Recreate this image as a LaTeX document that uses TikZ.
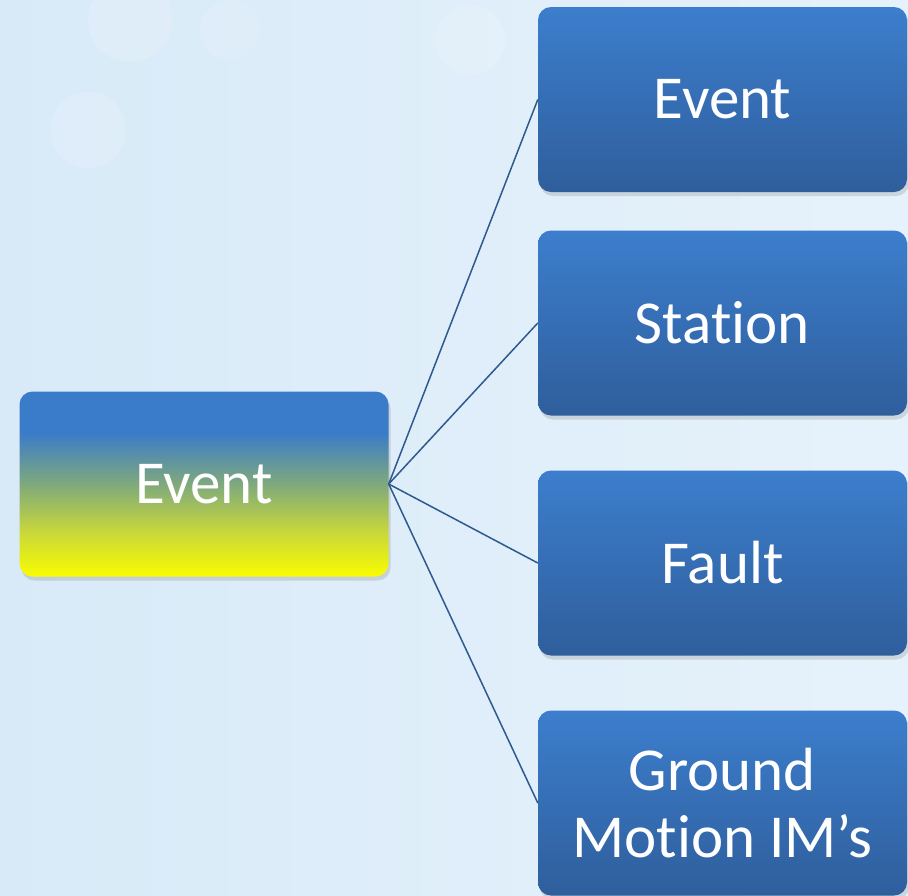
\documentclass[tikz,border=0pt]{standalone}
\usepackage{fontspec}
\setmainfont{Carlito}[Ligatures={NoCommon}]
\usetikzlibrary{shadows}
\definecolor{evblue}{HTML}{3A7BCA}
\definecolor{evmid}{HTML}{7FA97D}
\definecolor{evyel}{HTML}{FAFC00}
\definecolor{evlow}{HTML}{C8D83A}
\definecolor{boxtop}{HTML}{3C7ECD}
\definecolor{boxbot}{HTML}{2F5E9C}
\definecolor{linecol}{HTML}{2E5A90}
\definecolor{bgA}{HTML}{D8EAF8}
\definecolor{bgB}{HTML}{E6F2FB}
\pgfdeclareverticalshading{evshade}{100bp}{color(0bp)=(evyel); color(25bp)=(evyel); color(37bp)=(evlow); color(50bp)=(evmid); color(64bp)=(evblue); color(100bp)=(evblue)}
\tikzset{
  box/.style={rectangle, rounded corners=13pt, minimum width=369pt, minimum height=185pt, inner sep=0pt,
    text=white, align=center, font=\fontsize{61}{67}\selectfont,
    drop shadow={shadow xshift=2pt, shadow yshift=-4pt, opacity=0.25}},
  bluebox/.style={box, top color=boxtop, bottom color=boxbot},
  rootbox/.style={box, shading=evshade},
  link/.style={draw=linecol, line width=1.5pt},
  bokeh/.style={fill=white, opacity=0.15}
}
\begin{document}
\begin{tikzpicture}[x=1pt, y=-1pt]
\useasboundingbox (0,0) rectangle (908,895);
\shade[left color=bgA, right color=bgB] (0,0) rectangle (908,895);
\fill[bokeh] (130,20) circle (42);
\fill[bokeh] (88,130) circle (38);
\fill[bokeh] (470,40) circle (35);
\fill[bokeh, opacity=0.1] (230,30) circle (30);
\node[rootbox] (root) at (204,484) {Event};
\node[bluebox] (b1) at (722.5,99.5) {Event};
\node[bluebox] (b2) at (722.5,323) {Station};
\node[bluebox] (b3) at (722.5,563) {Fault};
\node[bluebox] (b4) at (722.5,803) {Ground\\Motion IM’s};
\foreach \b in {b1,b2,b3,b4} \draw[link] (root.east) -- (\b.west);
\end{tikzpicture}
\end{document}
